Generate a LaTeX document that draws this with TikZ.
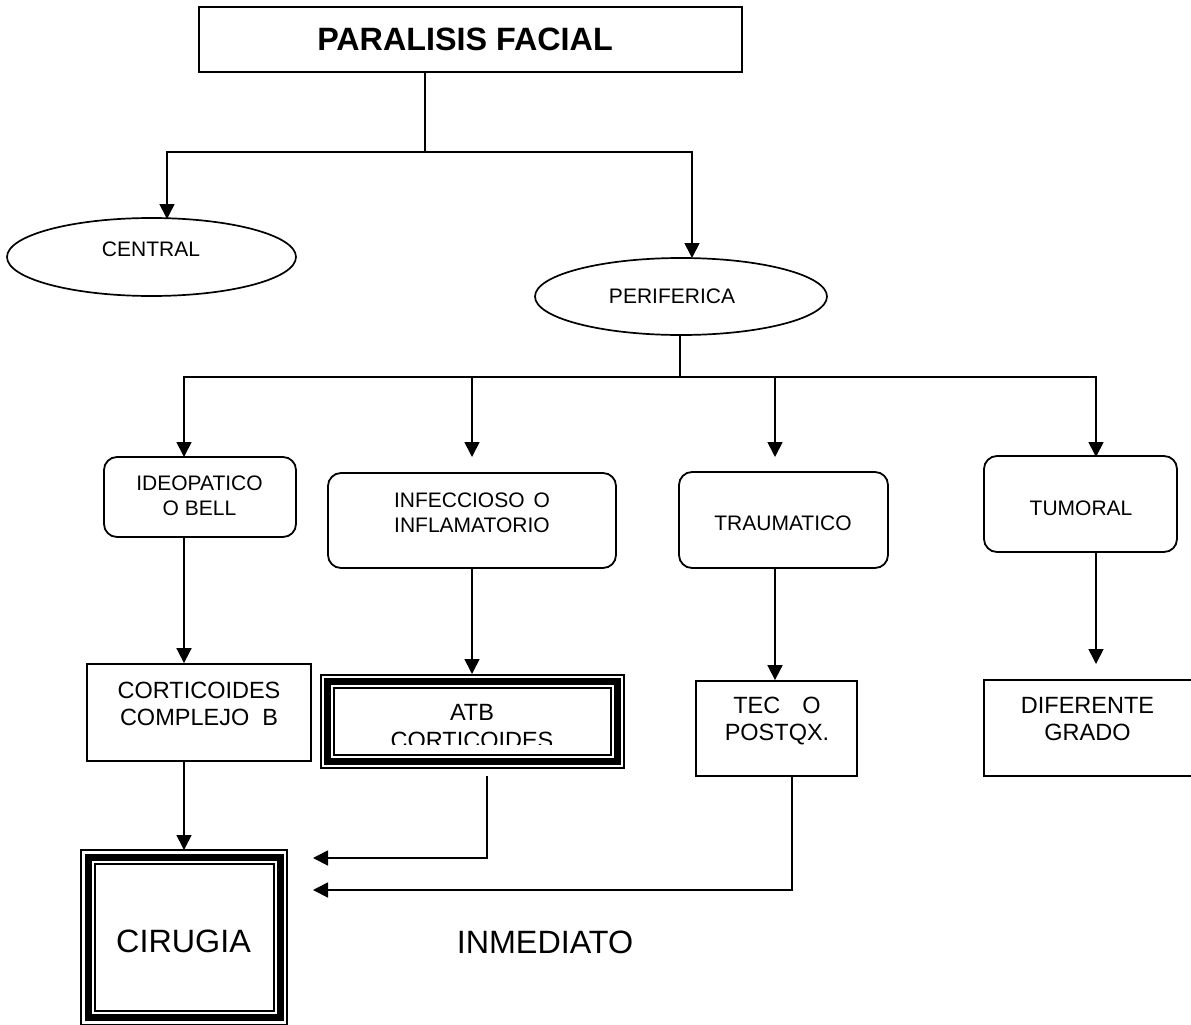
\documentclass[tikz,border=0pt]{standalone}
\usepackage{fontspec}
\setmainfont{Liberation Sans}
\usetikzlibrary{arrows.meta,shapes.geometric}
% text sizes used in the chart
\newcommand\fsSmall{\fontsize{21}{24.5}\selectfont}
\newcommand\fsMid{\fontsize{23.5}{26.5}\selectfont}
\newcommand\fsMidLoose{\fontsize{23.5}{28}\selectfont}
\newcommand\fsBig{\fontsize{32.3}{38}\selectfont}
\begin{document}
\begin{tikzpicture}[x=1pt,y=-1pt,
  conn/.style={line width=1.7pt},
  arr/.style={conn,-{Triangle[length=15pt,width=15pt]}},
  plainbox/.style={draw,rectangle,line width=1.8pt,inner sep=0pt},
  roundbox/.style={plainbox,rounded corners=13pt},
  oval/.style={draw,ellipse,line width=1.7pt,inner sep=0pt},
  framebox/.style={draw,rectangle,line width=7pt,inner sep=0pt,outer sep=0pt},
  frameline/.style={line width=2pt},
  txt/.style={inner sep=0pt,align=center,anchor=base},
]
\useasboundingbox[fill=white] (0,0) rectangle (1191,1025);

% ---- title ----
\node[plainbox,minimum width=543pt,minimum height=65pt] (title) at (470.5,39.5) {};
\node[txt,font=\fsBig\bfseries] (titleT) at (465,51) {PARALISIS FACIAL};

% ---- central / peripheral ----
\node[oval,minimum width=289pt,minimum height=78pt] (central) at (151.5,257) {};
\node[txt,font=\fsSmall] (centralT) at (151,256) {CENTRAL};
\node[oval,minimum width=292pt,minimum height=77pt] (perif) at (681,296.5) {};
\node[txt,font=\fsSmall] (perifT) at (672,303) {PERIFERICA};

% ---- causes (the base of a two-line label is its last line) ----
\node[roundbox,minimum width=192pt,minimum height=80pt] (ideo) at (200,497) {};
\node[txt,font=\fsSmall] (ideoT) at (199.5,515) {IDEOPATICO\\O BELL};
\node[roundbox,minimum width=288pt,minimum height=95pt] (infec) at (472,520.5) {};
\node[txt,font=\fsSmall] (infecT) at (472,532) {INFECCIOSO\hspace{9pt}O\\INFLAMATORIO};
\node[roundbox,minimum width=209pt,minimum height=96pt] (trauma) at (783.5,520) {};
\node[txt,font=\fsSmall] (traumaT) at (783,530) {TRAUMATICO};
\node[roundbox,minimum width=193pt,minimum height=96pt] (tumor) at (1080.5,504) {};
\node[txt,font=\fsSmall] (tumorT) at (1081,515) {TUMORAL};

% ---- treatments ----
\node[plainbox,minimum width=224pt,minimum height=97pt] (cortic) at (199,712.5) {};
\node[txt,font=\fsMid] (corticT) at (199,725) {CORTICOIDES\\COMPLEJO\hspace{13pt}B};

\node[framebox,minimum width=289.5pt,minimum height=80pt] (atb) at (472.25,721.5) {};
\draw[frameline] ([shift={(-6.5,-6.5)}]atb.north west) rectangle ([shift={(6.5,6.5)}]atb.south east);
\draw[frameline] ([shift={(6.5,6.5)}]atb.north west) rectangle ([shift={(-6.5,-6.5)}]atb.south east);
\begin{scope}
  \clip (336,690) rectangle (607,744);
  \node[txt,font=\fsMidLoose] (atbT) at (472,748) {ATB\\CORTICOIDES};
\end{scope}

\node[plainbox,minimum width=161pt,minimum height=95pt] (tec) at (776.5,728.5) {};
\node[txt,font=\fsMid] (tecT) at (777,740) {TEC\hspace{22pt}O\\POSTQX.};
\node[plainbox,minimum width=221pt,minimum height=96pt] (dif) at (1094.5,728) {};
\node[txt,font=\fsMid] (difT) at (1087.5,740) {DIFERENTE\\GRADO};

% ---- surgery ----
\node[framebox,minimum width=192pt,minimum height=160.5pt] (cir) at (184,937.25) {};
\draw[frameline] ([shift={(-7,-7)}]cir.north west) rectangle ([shift={(7,7)}]cir.south east);
\draw[frameline] ([shift={(6.5,6.5)}]cir.north west) rectangle ([shift={(-6.5,-6.5)}]cir.south east);
\node[txt,font=\fsBig] (cirT) at (183.5,952) {CIRUGIA};
\node[txt,font=\fsBig] (inmed) at (545,953) {INMEDIATO};

% ---- connector helpers ----
\coordinate (j1) at (425,152);
\coordinate (cenTip) at (167,219);
\coordinate (perTip) at (692,258);
\coordinate (j2) at (680,377);
\coordinate (cA) at (184,0);
\coordinate (cB) at (472,0);
\coordinate (cC) at (775,0);
\coordinate (cD) at (1096,0);
\coordinate (r3) at (0,457);
\coordinate (r4) at (0,664);
\coordinate (atbTop) at (472,674);
\coordinate (cirTop) at (184,850);
\coordinate (atbOut) at (487,776);
\coordinate (tecX) at (792,0);
\coordinate (cirIn1) at (313,858);
\coordinate (cirIn2) at (313,890);

% ---- connectors ----
\draw[conn] (title.south -| j1) -- (j1);
\draw[arr] (j1) -| (cenTip);
\draw[arr] (j1) -| (perTip);
\draw[conn] (perif.south -| j2) -- (j2);
\draw[arr] (j2) -| (cA |- r3);
\draw[arr] (j2) -| (cB |- r3);
\draw[arr] (j2) -| (cC |- r3);
\draw[arr] (j2) -| (cD |- r3);
\draw[arr] (ideo.south -| cA) -- (cortic.north -| cA);
\draw[arr] (infec.south -| cB) -- (atbTop);
\draw[arr] (trauma.south -| cC) -- (tec.north -| cC);
\draw[arr] (tumor.south -| cD) -- (cD |- r4);
\draw[arr] (cortic.south -| cA) -- (cirTop);
\draw[arr] (atbOut) |- (cirIn1);
\draw[arr] (tec.south -| tecX) |- (cirIn2);
\end{tikzpicture}
\end{document}
